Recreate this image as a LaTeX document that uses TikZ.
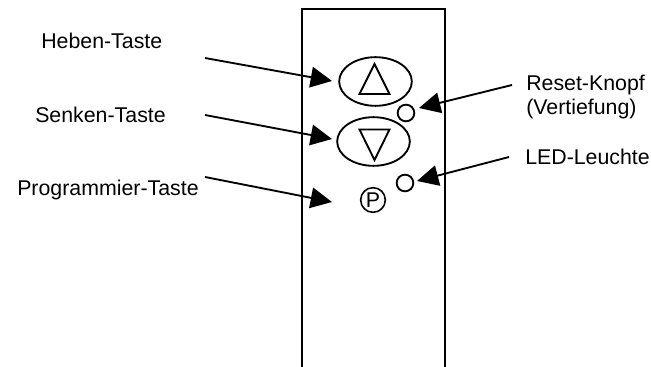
\documentclass[tikz,border=0pt]{standalone}
\usepackage{fontspec}
\setmainfont{Liberation Sans}
\usetikzlibrary{arrows.meta,shapes.geometric}
\tikzset{
 px/.style={x=0.75pt,y=-0.75pt},
 lbl/.style={font=\fontsize{16pt}{19pt}\selectfont,inner sep=0pt,text=black},
 ln/.style={draw=black,line width=1.4pt},
 ptr/.style={draw=black,line width=1.4pt,-{Triangle[length=16pt,width=15.5pt]}},
 btn/.style={ellipse,draw=black,line width=1.4pt,minimum width=54.5pt,minimum height=36.5pt,inner sep=0pt},
 led/.style={circle,draw=black,line width=1.4pt,minimum size=12.5pt,inner sep=0pt},
}
\begin{document}
\begin{tikzpicture}[px]
\useasboundingbox (0,0) rectangle (651,367);
\fill[white] (0,0) rectangle (651,367);
\coordinate (ptl) at (302,9); \coordinate (ptr) at (445,9);
\coordinate (pbl) at (302,367); \coordinate (pbr) at (445,367);
\draw[ln] (pbl) -- (ptl) -- (ptr) -- (pbr);
\node[btn] (up) at (375.5,81.5) {};
\node[btn] (down) at (373.5,141.5) {};
\draw[ln,line join=miter] (374.5,64) -- (389.5,94) -- (359.5,94) -- cycle;
\draw[ln,line join=miter] (359.5,129.5) -- (389.5,129.5) -- (374.5,160) -- cycle;
\node[led] (reset) at (406,113) {};
\node[led] (ledl) at (405,183) {};
\node[circle,draw=black,line width=1.2pt,minimum size=18.5pt,inner sep=0pt,font=\fontsize{16pt}{18pt}\selectfont] (prog) at (373,200) {P};
\node[lbl,anchor=base west] (t1) at (41,49) {Heben-Taste};
\node[lbl,anchor=base west] (t2) at (35,123) {Senken-Taste};
\node[lbl,anchor=base west] (t3) at (17,196) {Programmier-Taste};
\node[lbl,anchor=base west] (t4) at (526,91) {Reset-Knopf};
\node[lbl,anchor=base west] (t5) at (526,115) {(Vertiefung)};
\node[lbl,anchor=base west] (t6) at (525,165) {LED-Leuchte};
\coordinate (a1) at (205,58); \coordinate (a1e) at (332,81);
\coordinate (a2) at (205,115); \coordinate (a2e) at (332,139);
\coordinate (a3) at (205,177); \coordinate (a3e) at (332,202);
\coordinate (a4) at (512,85); \coordinate (a4e) at (419,108);
\coordinate (a5) at (509,157); \coordinate (a5e) at (417,181);
\draw[ptr] (a1) -- (a1e);
\draw[ptr] (a2) -- (a2e);
\draw[ptr] (a3) -- (a3e);
\draw[ptr] (a4) -- (a4e);
\draw[ptr] (a5) -- (a5e);
\end{tikzpicture}
\end{document}
